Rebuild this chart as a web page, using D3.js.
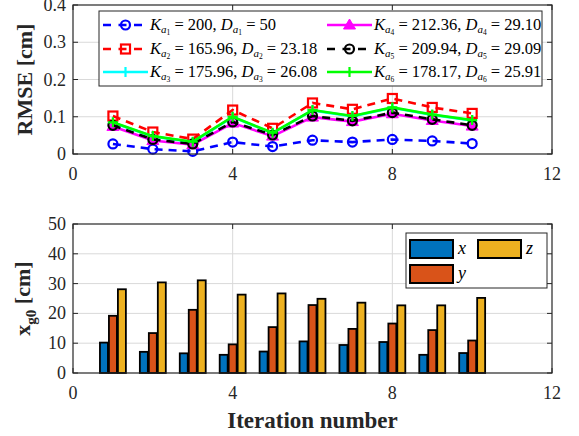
<!DOCTYPE html>
<html>
<head>
<meta charset="utf-8">
<script src="https://cdn.jsdelivr.net/npm/d3@7"></script>
<style>
body { margin: 0; background: #fff; }
svg { font-family: "Liberation Serif", "Times New Roman", serif; }
</style>
</head>
<body>
<div id="chart"></div>
<script>
// Data ----------------------------------------------------
var iterations = [1, 2, 3, 4, 5, 6, 7, 8, 9, 10];

var rmse1 = [0.027, 0.013, 0.007, 0.032, 0.020, 0.037, 0.032, 0.039, 0.035, 0.028];
var rmse2 = [0.102, 0.059, 0.040, 0.118, 0.069, 0.137, 0.120, 0.149, 0.125, 0.109];
var rmse3 = [0.084, 0.047, 0.032, 0.099, 0.056, 0.117, 0.101, 0.124, 0.105, 0.090];
var rmse4 = [0.074, 0.036, 0.025, 0.083, 0.048, 0.099, 0.087, 0.108, 0.090, 0.075];
var rmse5 = [0.077, 0.039, 0.027, 0.086, 0.051, 0.102, 0.089, 0.111, 0.093, 0.077];
var rmse6 = [0.085, 0.048, 0.033, 0.100, 0.057, 0.118, 0.102, 0.125, 0.106, 0.091];

var legendK = ["200", "165.96", "175.96", "212.36", "209.94", "178.17"];
var legendD = ["50", "23.18", "26.08", "29.10", "29.09", "25.91"];

var xg0x = [10.2, 7.1, 6.6, 6.1, 7.2, 10.6, 9.4, 10.4, 6.1, 6.7];
var xg0y = [19.2, 13.4, 21.2, 9.6, 15.4, 22.8, 14.8, 16.6, 14.4, 10.9];
var xg0z = [28.1, 30.4, 31.1, 26.3, 26.7, 24.9, 23.6, 22.7, 22.7, 25.2];

var xTicks = [0, 4, 8, 12];
var rmseTicks = [0, 0.1, 0.2, 0.3, 0.4];
var xg0Ticks = [0, 10, 20, 30, 40, 50];

// Layout --------------------------------------------------
var width = 579, height = 436;
var left = 73, right = 552;

var svg = d3.select("#chart").append("svg")
    .attr("width", width)
    .attr("height", height);

var x = d3.scaleLinear().domain([0, 12]).range([left, right]);
var yTop = d3.scaleLinear().domain([0, 0.4]).range([154, 5]);
var yBot = d3.scaleLinear().domain([0, 50]).range([373, 224]);

function drawAxes(y, ticks, fmt) {
    var top = y.range()[1], bottom = y.range()[0];
    var g = svg.append("g");
    // grid
    g.selectAll(".gx").data(xTicks.slice(1, -1)).enter().append("line")
        .attr("x1", d => x(d)).attr("x2", d => x(d))
        .attr("y1", top).attr("y2", bottom)
        .attr("stroke", "#d9d9d9").attr("stroke-width", 1);
    g.selectAll(".gy").data(ticks.slice(1, -1)).enter().append("line")
        .attr("x1", left).attr("x2", right)
        .attr("y1", d => y(d)).attr("y2", d => y(d))
        .attr("stroke", "#d9d9d9").attr("stroke-width", 1);
    // inward ticks on all four sides
    g.selectAll(".tx").data(xTicks).enter().append("path")
        .attr("d", d => "M" + x(d) + "," + bottom + "v-5M" + x(d) + "," + top + "v5")
        .attr("stroke", "#262626").attr("stroke-width", 1);
    g.selectAll(".ty").data(ticks).enter().append("path")
        .attr("d", d => "M" + left + "," + y(d) + "h5M" + right + "," + y(d) + "h-5")
        .attr("stroke", "#262626").attr("stroke-width", 1);
    // tick labels
    g.selectAll(".lx").data(xTicks).enter().append("text")
        .attr("x", d => x(d)).attr("y", bottom + 26)
        .attr("text-anchor", "middle")
        .style("font-size", "18px").attr("fill", "#262626")
        .text(d => d);
    g.selectAll(".ly").data(ticks).enter().append("text")
        .attr("x", left - 7).attr("y", d => y(d) + 6)
        .attr("text-anchor", "end")
        .style("font-size", "18px").attr("fill", "#262626")
        .text(fmt);
    return g;
}

function drawBox(y) {
    svg.append("rect")
        .attr("x", left).attr("y", y.range()[1])
        .attr("width", right - left).attr("height", y.range()[0] - y.range()[1])
        .attr("fill", "none").attr("stroke", "#262626").attr("stroke-width", 1.2);
}

// Top plot: RMSE -----------------------------------------
drawAxes(yTop, rmseTicks, d => d === 0 ? "0" : d3.format(".1f")(d));

var series = [
    { v: rmse1, color: "#0000ff", dash: "8,6", marker: "circle" },
    { v: rmse2, color: "#ff0000", dash: "8,6", marker: "square" },
    { v: rmse3, color: "#00ffff", dash: null, marker: "plus" },
    { v: rmse4, color: "#ff00ff", dash: null, marker: "triangle" },
    { v: rmse5, color: "#000000", dash: "8,6", marker: "circle" },
    { v: rmse6, color: "#00ff00", dash: null, marker: "plus" }
];

function drawMarker(g, type, cx, cy, color) {
    if (type === "circle") {
        g.append("circle").attr("cx", cx).attr("cy", cy).attr("r", 4.5)
            .attr("fill", "none").attr("stroke", color).attr("stroke-width", 2.2);
    } else if (type === "square") {
        g.append("rect").attr("x", cx - 4.5).attr("y", cy - 4.5)
            .attr("width", 9).attr("height", 9)
            .attr("fill", "none").attr("stroke", color).attr("stroke-width", 2.2);
    } else if (type === "triangle") {
        g.append("path")
            .attr("d", "M" + cx + "," + (cy - 6) + "L" + (cx + 6) + "," + (cy + 4) + "L" + (cx - 6) + "," + (cy + 4) + "Z")
            .attr("fill", color).attr("stroke", color).attr("stroke-width", 1);
    } else if (type === "plus") {
        g.append("path")
            .attr("d", "M" + (cx - 5) + "," + cy + "h10M" + cx + "," + (cy - 5) + "v10")
            .attr("stroke", color).attr("stroke-width", 2.2);
    }
}

var line = d3.line().x((d, i) => x(iterations[i])).y(d => yTop(d));

series.forEach(function (s) {
    var g = svg.append("g");
    g.append("path").datum(s.v)
        .attr("d", line)
        .attr("fill", "none")
        .attr("stroke", s.color)
        .attr("stroke-width", 2.6)
        .attr("stroke-dasharray", s.dash);
    s.v.forEach(function (d, i) {
        drawMarker(g, s.marker, x(iterations[i]), yTop(d), s.color);
    });
});

drawBox(yTop);

// Top legend
var leg = svg.append("g");
leg.append("rect").attr("x", 99).attr("y", 11).attr("width", 443).attr("height", 75)
    .attr("fill", "#fff").attr("stroke", "#262626").attr("stroke-width", 1);

var legCols = [103, 327];
var legRows = [25, 49, 72];

series.forEach(function (s, i) {
    var col = Math.floor(i / 3), row = i % 3;
    var lx = legCols[col], ly = legRows[row];
    leg.append("line")
        .attr("x1", lx).attr("x2", lx + 45)
        .attr("y1", ly).attr("y2", ly)
        .attr("stroke", s.color).attr("stroke-width", 2.6)
        .attr("stroke-dasharray", s.dash ? "8,7.5" : null);
    drawMarker(leg, s.marker, lx + 22.5, ly, s.color);

    var t = leg.append("text")
        .attr("x", lx + 47).attr("y", ly + 5)
        .style("font-size", "16.5px").attr("fill", "#000");
    t.append("tspan").style("font-style", "italic").text("K");
    t.append("tspan").style("font-style", "italic").style("font-size", "11px").attr("dy", 3).text("a");
    t.append("tspan").style("font-size", "7.5px").attr("dy", 2).text(i + 1);
    t.append("tspan").attr("dy", -5).text(" = " + legendK[i] + ", ");
    t.append("tspan").style("font-style", "italic").text("D");
    t.append("tspan").style("font-style", "italic").style("font-size", "11px").attr("dy", 3).text("a");
    t.append("tspan").style("font-size", "7.5px").attr("dy", 2).text(i + 1);
    t.append("tspan").attr("dy", -5).text(" = " + legendD[i]);
});

svg.append("text")
    .attr("transform", "translate(32," + yTop(0.2) + ") rotate(-90)")
    .attr("text-anchor", "middle")
    .style("font-size", "22px").style("font-weight", "bold")
    .attr("fill", "#262626")
    .text("RMSE [cm]");

// Bottom plot: x_g0 bars ---------------------------------
drawAxes(yBot, xg0Ticks, d => d);

var barColors = ["#0072BD", "#D95319", "#EDB120"];
var barSets = [xg0x, xg0y, xg0z];
var barW = 0.2, barOff = 0.225;

barSets.forEach(function (vals, k) {
    svg.append("g").selectAll("rect").data(vals).enter().append("rect")
        .attr("x", (d, i) => x(iterations[i] + (k - 1) * barOff - barW / 2))
        .attr("y", d => yBot(d))
        .attr("width", x(barW) - x(0))
        .attr("height", d => yBot(0) - yBot(d))
        .attr("fill", barColors[k])
        .attr("stroke", "#000").attr("stroke-width", 1.8);
});

drawBox(yBot);

// Bottom legend
var leg2 = svg.append("g");
leg2.append("rect").attr("x", 406).attr("y", 233).attr("width", 141).attr("height", 55)
    .attr("fill", "#fff").attr("stroke", "#262626").attr("stroke-width", 1);
var barNames = ["x", "y", "z"];
var patchPos = [[409, 239], [409, 264], [477, 239]];
barNames.forEach(function (n, k) {
    leg2.append("rect")
        .attr("x", patchPos[k][0] + 1).attr("y", patchPos[k][1] + 1)
        .attr("width", 43).attr("height", 18)
        .attr("fill", barColors[k]).attr("stroke", "#000").attr("stroke-width", 2);
    leg2.append("text")
        .attr("x", patchPos[k][0] + 49).attr("y", patchPos[k][1] + 15)
        .style("font-size", "18px").style("font-style", "italic")
        .attr("fill", "#000")
        .text(n);
});

var yl = svg.append("text")
    .attr("transform", "translate(30," + yBot(25) + ") rotate(-90)")
    .attr("text-anchor", "middle")
    .style("font-size", "22px").style("font-weight", "bold")
    .attr("fill", "#262626");
yl.append("tspan").text("x");
yl.append("tspan").style("font-size", "15px").attr("dy", 6).text("g0");
yl.append("tspan").attr("dy", -6).text(" [cm]");

svg.append("text")
    .attr("x", (left + right) / 2).attr("y", 428)
    .attr("text-anchor", "middle")
    .style("font-size", "23px").style("font-weight", "bold")
    .attr("fill", "#262626")
    .text("Iteration number");
</script>
</body>
</html>
